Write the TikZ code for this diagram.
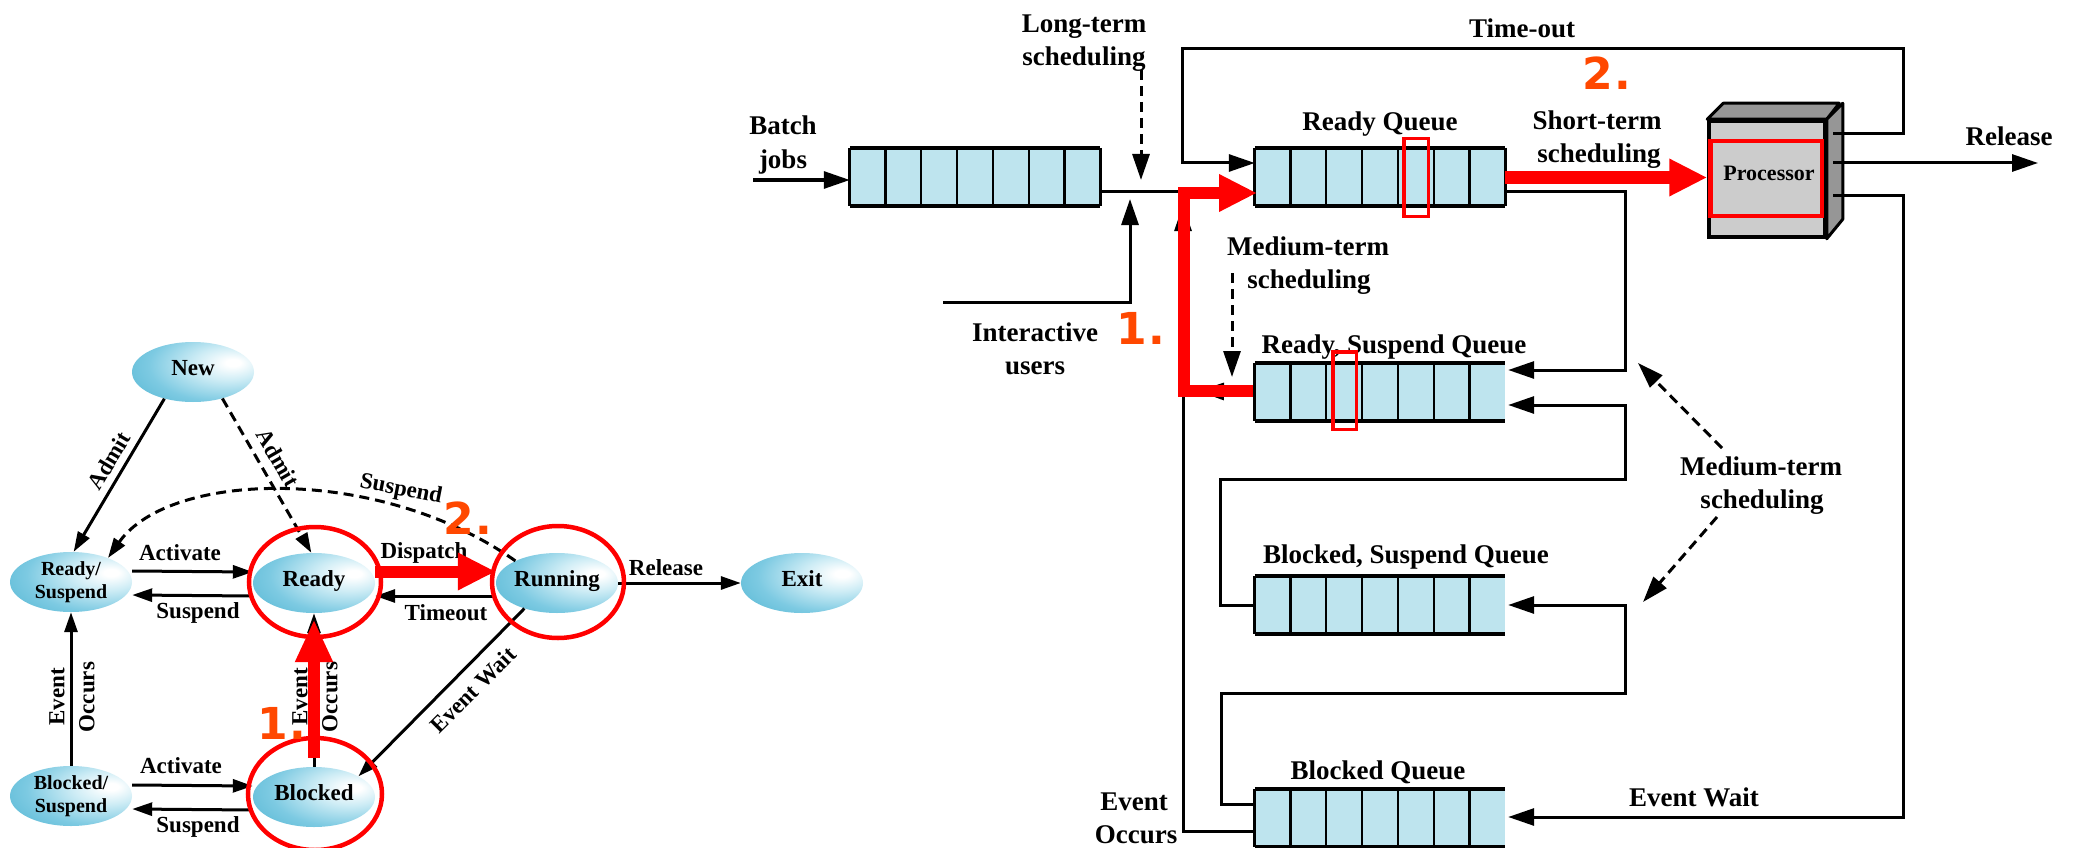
\documentclass[tikz,border=0pt]{standalone}
\usepackage{fontspec}
\setmainfont{Liberation Serif}
\newfontfamily\numfont{DejaVu Sans}
\usetikzlibrary{arrows.meta,shapes.geometric,calc}

\definecolor{qfill}{RGB}{190,228,238}
\definecolor{eledge}{RGB}{58,170,202}
\definecolor{elmid}{RGB}{125,202,226}
\definecolor{ellight}{RGB}{205,236,245}
\definecolor{annot}{RGB}{255,0,0}
\definecolor{numc}{RGB}{255,72,0}
\definecolor{pfront}{RGB}{204,204,204}
\definecolor{pside}{RGB}{150,150,150}

\pgfdeclareradialshading{ellshade}{\pgfpoint{17bp}{8bp}}{color(0bp)=(white); color(3bp)=(white); color(14bp)=(ellight); color(30bp)=(elmid); color(55bp)=(eledge); color(100bp)=(eledge)}

\newcommand\drawqueue[2]{%
  \draw[line width=2.2pt] foreach \i in {1,...,6} {($(#1.north west)!\i/7!(#1.north east)$) -- ($(#1.south west)!\i/7!(#1.south east)$)};
  \draw[line width=3pt] (#1.north west) -- (#1.south west);
  \ifnum#2=1 \draw[line width=3pt] (#1.north east) -- (#1.south east);\fi
  \draw[line width=4.5pt] (#1.north west) -- (#1.north east) (#1.south west) -- (#1.south east);
}

\tikzset{
  st/.style={ellipse, minimum width=122pt, minimum height=60pt, inner sep=0pt, shade, shading=ellshade,
    font=\fontsize{23pt}{24pt}\selectfont\bfseries, text height=0.66em, text depth=0pt},
  st2/.style={ellipse, minimum width=122pt, minimum height=60pt, inner sep=0pt, shade, shading=ellshade,
    font=\fontsize{20pt}{23pt}\selectfont\bfseries, align=center},
  larr/.style={line width=3pt, -{Triangle[length=20pt,width=13pt]}},
  ldash/.style={larr, dash pattern=on 10pt off 6pt},
  ll/.style={font=\fontsize{23pt}{29pt}\selectfont\bfseries, inner sep=0pt, anchor=base},
  llr/.style={font=\fontsize{23pt}{30pt}\selectfont\bfseries, inner sep=0pt},
  rl/.style={font=\fontsize{27pt}{30pt}\selectfont\bfseries, inner sep=0pt, anchor=base},
  rline/.style={line width=3pt},
  rarr/.style={line width=3pt, -{Triangle[length=26pt,width=17pt]}},
  rdash/.style={rarr, dash pattern=on 10pt off 6pt},
  redarr/.style={draw=annot, line width=12pt, -{Triangle[length=38pt,width=35pt]}},
  redring/.style={draw=annot, line width=4.5pt},
  num/.style={text=numc, font=\numfont\bfseries\fontsize{44pt}{44pt}\selectfont, inner sep=0pt},
  queue/.style={minimum width=250pt, minimum height=58pt, inner sep=0pt, fill=qfill},
}

\begin{document}
\begin{tikzpicture}[x=1pt,y=-1pt]
\useasboundingbox (0,0) rectangle (2078,848);
\fill[white] (0,0) rectangle (2078,848);
\clip (0,0) rectangle (2078,848);

%================ LEFT: state diagram ================
\node[st] (new) at (193,372) {New};
\node[st2] (rs) at (71,582) {Ready/\\Suspend};
\node[st] (ready) at (314,583) {Ready};
\node[st] (running) at (557,583) {Running};
\node[st] (exit) at (802,583) {Exit};
\node[st2] (bs) at (71,796) {Blocked/\\Suspend};
\node[st] (blocked) at (314,797) {Blocked};

\draw[larr] (new.223) -- (rs.85);
\draw[ldash] (new.-42) -- (ready.95);
\draw[ldash] (running.152) .. controls (380,465) and (170,470) .. (rs.33);
\draw[larr] ([yshift=11pt]rs.east) -- ([yshift=11pt]ready.west);
\draw[larr] ([yshift=-13pt]ready.west) -- ([yshift=-13pt]rs.east);
\draw[larr] ([yshift=11pt]ready.east) -- ([yshift=11pt]running.west);
\draw[larr] ([yshift=-13pt]running.west) -- ([yshift=-13pt]ready.east);
\draw[larr] (running.east) -- (exit.west);
\draw[larr] (running.218.7) -- (blocked.25);
\draw[larr] (bs.north) -- (rs.south);
\draw[larr] (blocked.north) -- (ready.south);
\draw[larr] ([yshift=11pt]bs.east) -- ([yshift=11pt]blocked.west);
\draw[larr] ([yshift=-13pt]blocked.west) -- ([yshift=-13pt]bs.east);

\node[ll] (lAct1) at (180,560) {Activate};
\node[ll] (lSus1) at (198,618) {Suspend};
\node[ll] (lDisp) at (424,558) {Dispatch};
\node[ll] (lTime) at (446,620) {Timeout};
\node[ll] (lRel) at (666,575) {Release};
\node[ll] (lAct2) at (181,773) {Activate};
\node[ll] (lSus2) at (198,832) {Suspend};
\node[llr, rotate=59] (lAdm1) at (109,461) {Admit};
\node[llr, rotate=-60] (lAdm2) at (278,458) {Admit};
\node[llr, rotate=-11] (lSusC) at (401,490) {Suspend};
\node[llr, rotate=45] (lEW) at (473,690) {Event Wait};
\node[llr, rotate=90, align=center] (lEO1) at (72,697) {Event\\Occurs};
\node[llr, rotate=90, align=center] (lEO2) at (315,697) {Event\\Occurs};

% red annotations (left)
\draw[redring] (315,582) ellipse [x radius=66pt, y radius=55pt];
\draw[redring] (558,582) ellipse [x radius=66pt, y radius=56pt];
\draw[redring] (315,794) ellipse [x radius=67pt, y radius=56pt];
\draw[redarr] ([yshift=11.5pt]ready.east) -- ([yshift=11.5pt]running.west);
\draw[redarr, -{Triangle[length=43pt,width=35pt]}] ([yshift=9pt]blocked.north) -- ([yshift=-6pt]ready.south);
\node[num] (n2L) at (468,518) {2\kern2pt.};
\node[num] (n1L) at (282,723) {1\kern2pt.};

%================ RIGHT: queue diagram ================
\node[queue] (bq) at (975,177) {};
\node[queue] (rq) at (1380,177) {};
\node[queue] (rsq) at (1380,392) {};
\node[queue] (bsq) at (1380,605) {};
\node[queue] (blq) at (1380,818) {};
\drawqueue{bq}{1}
\drawqueue{rq}{1}
\drawqueue{rsq}{0}
\drawqueue{bsq}{0}
\drawqueue{blq}{0}

% processor
\node[draw, line width=3.5pt, fill=pfront, minimum width=116pt, minimum height=116pt, inner sep=0pt] (proc) at (1767,179) {};
\filldraw[fill=pside, line width=3pt, line join=round] (proc.north west) -- ++(16,-16) -- ++(116,0) -- (proc.north east) -- cycle;
\filldraw[fill=pside, line width=3pt, line join=round] (proc.north east) -- ++(16,-16) -- ++(0,116) -- (proc.south east) -- cycle;
\node[font=\fontsize{22pt}{24pt}\selectfont\bfseries, inner sep=0pt, anchor=base] (ptext) at (1769,181) {Processor};

% coordinates
\coordinate (bin) at (753,180);
\coordinate (junc) at (1183,191);
\coordinate (ltop) at (1141,70);
\coordinate (ltip) at (1141,180);
\coordinate (iuser) at (943,302);
\coordinate (itip) at (1130,199);
\coordinate (eotip) at (1183,205);
\coordinate (rstip) at (1198,391);
\coordinate (pto) at (1833,134);
\coordinate (prel) at (1833,163);
\coordinate (pew) at (1833,195);
\coordinate (reltip) at (2038,163);
\coordinate (mtop) at (1232,273);
\coordinate (mtip) at (1232,377);
\coordinate (m2a) at (1722,448);
\coordinate (m2b) at (1638,363);
\coordinate (m3a) at (1717,517);
\coordinate (m3b) at (1643,602);

\draw[rarr] (bin) -- (bq.west |- bin);
\draw[rline] (bq.east |- junc) -- (junc);
\draw[rdash] (ltop) -- (ltip);
\draw[rarr] (iuser) -| (itip);
\draw[rarr] ([yshift=-13pt]blq.west) -| (eotip);
\draw[rarr] (rsq.west) -- (rstip);
\draw[rarr] (pto) -- (1903,134) -- (1903,49) -- (1182,49) -- (1182,163) -- ([yshift=14pt]rq.west);
\draw[rarr] (prel) -- (reltip);
\draw[rarr] (pew) -- (1903,195) -- (1903,817) -- ([xshift=3pt,yshift=1pt]blq.east);
\draw[rarr] ([yshift=-14pt]rq.east) -- (1625,191) -- (1625,370) -- ([xshift=3pt,yshift=22pt]rsq.east);
\draw[rarr] (bsq.west) -- (1220,605) -- (1220,479) -- (1625,479) -- (1625,405) -- ([xshift=3pt,yshift=-13pt]rsq.east);
\draw[rarr] ([yshift=14pt]blq.west) -- (1221,804) -- (1221,693) -- (1625,693) -- (1625,605) -- ([xshift=3pt]bsq.east);
\draw[rdash] (mtop) -- (mtip);
\draw[rdash] (m2a) -- (m2b);
\draw[rdash] (m3a) -- (m3b);

% labels
\node[rl] (tBatch) at (783,135) {Batch};
\node[rl] (tJobs) at (783,168) {jobs};
\node[rl] (tLT1) at (1084,33) {Long-term};
\node[rl] (tLT2) at (1084,66) {scheduling};
\node[rl] (tRQ) at (1380,131) {Ready Queue};
\node[rl] (tMT1) at (1308,255) {Medium-term};
\node[rl] (tMT2) at (1309,288) {scheduling};
\node[rl] (tIU1) at (1035,341) {Interactive};
\node[rl] (tIU2) at (1035,374) {users};
\node[rl] (tRSQ) at (1394,353) {Ready, Suspend Queue};
\node[rl] (tTO) at (1522,38) {Time-out};
\node[rl] (tST1) at (1597,130) {Short-term};
\node[rl] (tST2) at (1599,163) {scheduling};
\node[rl] (tRel) at (2009,146) {Release};
\node[rl] (tBSQ) at (1406,563) {Blocked, Suspend Queue};
\node[rl] (tBQ) at (1378,779) {Blocked Queue};
\node[rl] (tEO1) at (1134,810) {Event};
\node[rl] (tEO2) at (1136,843) {Occurs};
\node[rl] (tMR1) at (1761,475) {Medium-term};
\node[rl] (tMR2) at (1762,508) {scheduling};
\node[rl] (tEW) at (1694,806) {Event Wait};

% red annotations (right)
\draw[redarr] (1253,391) -- (1184,391) -- (1184,193) -- (1257,193);
\draw[redarr] (rq.east |- 0,177.5) -- (proc.west |- 0,177.5);
\draw[redring, line width=3.5pt] (1403.75,138.75) rectangle (1428.25,216.25);
\draw[redring, line width=3.5pt] (1332.75,351.75) rectangle (1356.25,429.25);
\draw[redring] (1710.25,141.25) rectangle (1821.75,215.75);
\node[num] (n1R) at (1141,328) {1\kern2pt.};
\node[num] (n2R) at (1607,73) {2\kern2pt.};
\end{tikzpicture}
\end{document}
